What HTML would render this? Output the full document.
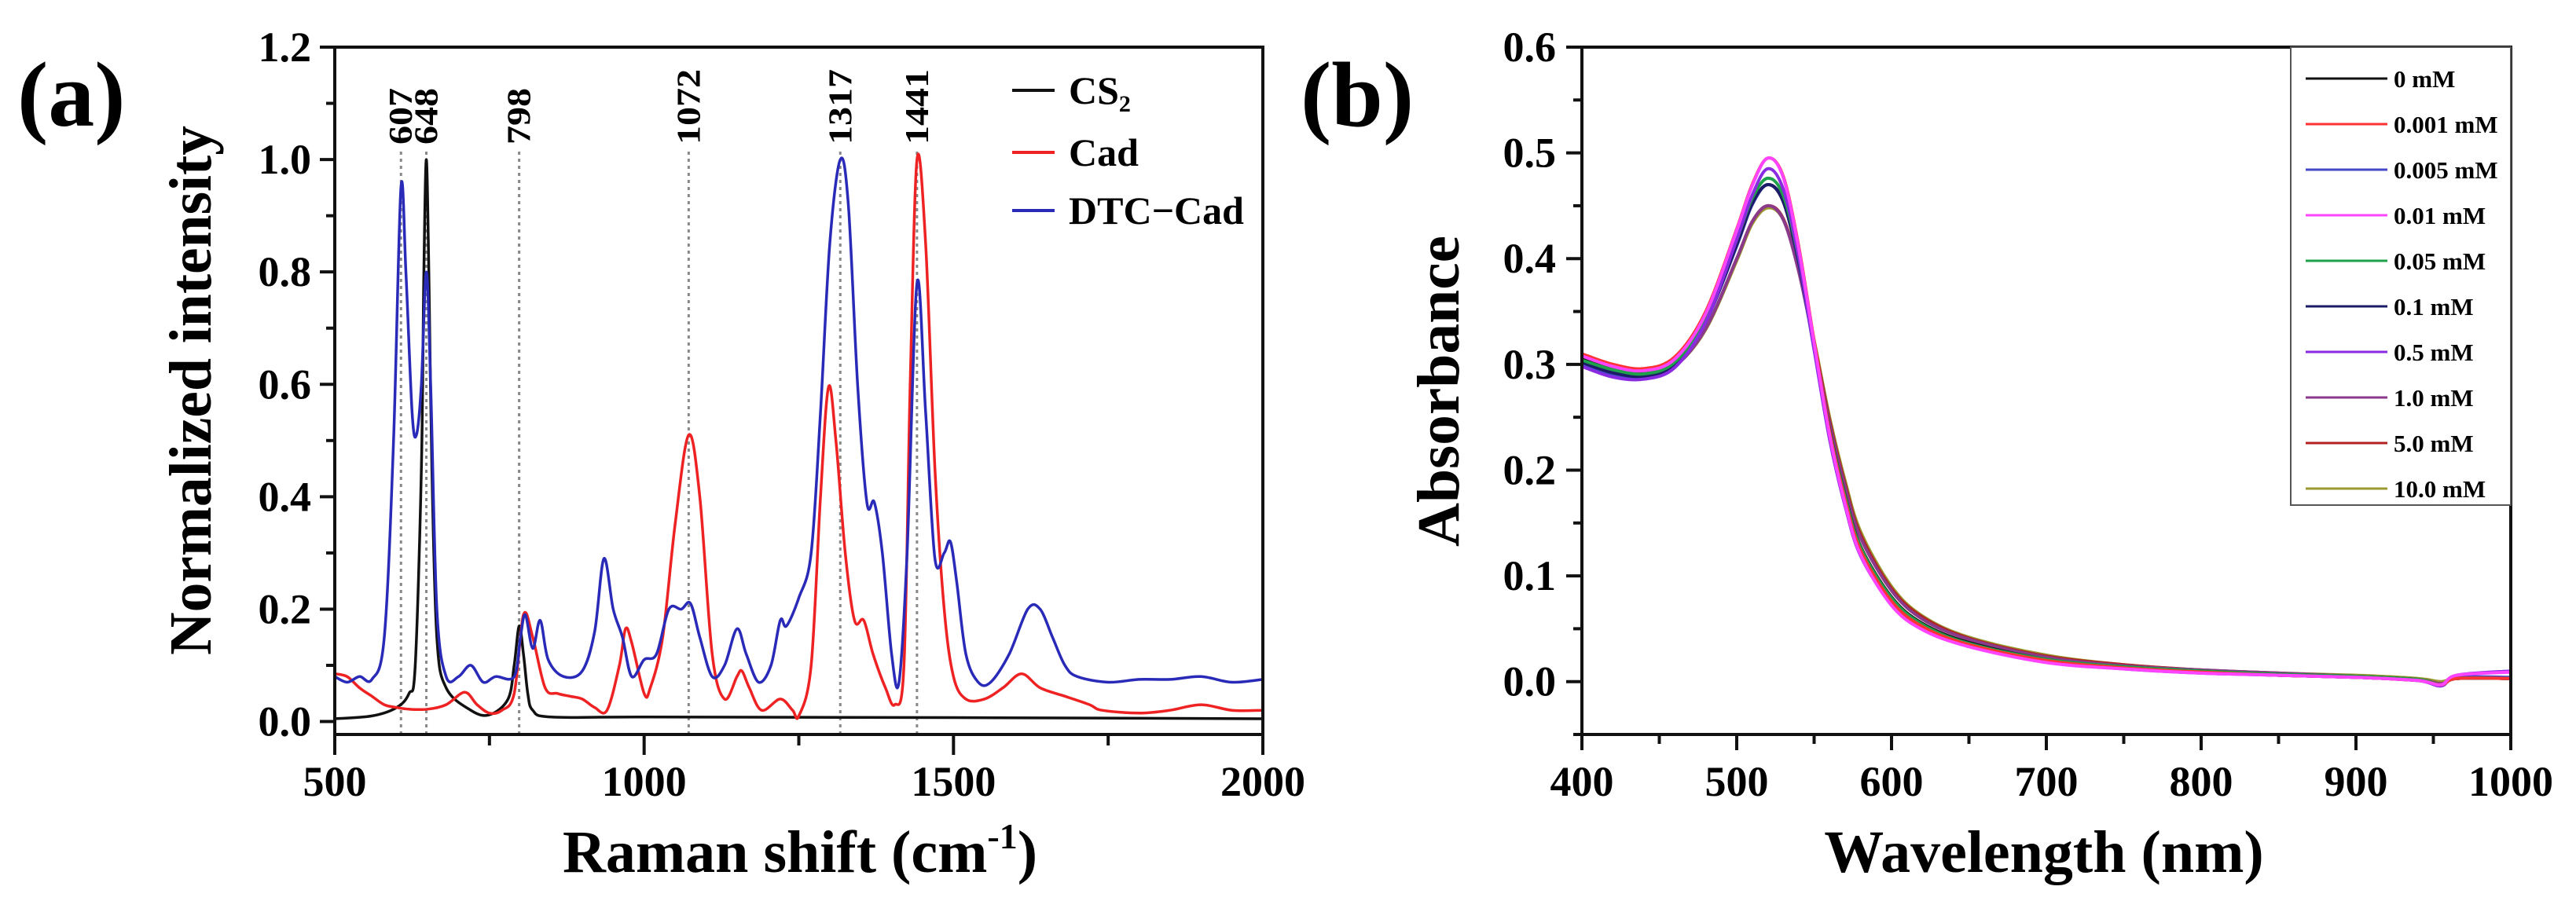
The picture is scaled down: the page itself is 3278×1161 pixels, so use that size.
<!DOCTYPE html>
<html><head><meta charset="utf-8"><style>
html,body{margin:0;padding:0;background:#fff;}
svg{display:block;font-family:"Liberation Serif",serif;font-weight:bold;}
</style></head><body>
<svg id="fig" width="3278" height="1161" viewBox="0 0 3278 1161" xmlns="http://www.w3.org/2000/svg">
<text x="22" y="160" font-size="118">(a)</text>
<text x="1655" y="160" font-size="118">(b)</text>
<text transform="translate(268,497) rotate(-90)" text-anchor="middle" font-size="76" textLength="674" lengthAdjust="spacingAndGlyphs">Normalized intensity</text>
<text x="1018" y="1110" text-anchor="middle" font-size="76">Raman shift (cm<tspan font-size="46" dy="-30">-1</tspan><tspan dy="30">)</tspan></text>
<text transform="translate(1856,498) rotate(-90)" text-anchor="middle" font-size="76" textLength="396" lengthAdjust="spacingAndGlyphs">Absorbance</text>
<text x="2601" y="1110" text-anchor="middle" font-size="76">Wavelength (nm)</text>
<g id="ga"></g><g id="gb"></g>
</svg>
<script>
// ---------- Panel (a) data ----------
const ramanTicks=[500,1000,1500,2000];
const intensityTicks=[0.0,0.2,0.4,0.6,0.8,1.0,1.2];
const peakPositions=[607,648,798,1072,1317,1441];
const cs2X=[500,560,600,620,630,640,644,648,652,657,665,680,720,750,780,790,798,805,812,820,850,1000,1500,2000];
const cs2Y=[0.005,0.01,0.025,0.05,0.1,0.45,0.8,1.0,0.8,0.45,0.15,0.06,0.02,0.012,0.04,0.1,0.17,0.12,0.05,0.02,0.008,0.008,0.007,0.005];
const cadX=[500,520,540,560,580,600,620,650,680,710,730,750,770,790,805,820,840,860,880,900,920,940,960,970,980,1000,1010,1030,1050,1072,1090,1110,1130,1150,1158,1170,1190,1220,1240,1250,1270,1285,1298,1310,1325,1340,1355,1370,1390,1405,1420,1430,1441,1455,1470,1485,1500,1520,1550,1580,1610,1640,1680,1720,1740,1800,1850,1900,1950,2000];
const cadY=[0.085,0.08,0.06,0.045,0.03,0.025,0.022,0.022,0.03,0.052,0.03,0.015,0.02,0.05,0.19,0.15,0.06,0.05,0.045,0.04,0.025,0.02,0.1,0.165,0.14,0.05,0.06,0.15,0.35,0.51,0.4,0.12,0.04,0.08,0.09,0.06,0.02,0.04,0.02,0.01,0.1,0.4,0.595,0.5,0.3,0.18,0.18,0.12,0.06,0.03,0.1,0.6,1.0,0.85,0.45,0.2,0.08,0.04,0.04,0.06,0.085,0.06,0.045,0.03,0.02,0.015,0.02,0.03,0.02,0.02];
const dtcX=[500,520,540,560,580,595,607,615,625,632,640,648,655,665,680,700,720,740,760,790,800,808,820,832,845,870,900,920,935,950,965,980,1000,1020,1040,1060,1075,1090,1110,1130,1150,1165,1185,1205,1220,1230,1250,1270,1285,1300,1317,1330,1345,1360,1372,1385,1400,1412,1425,1441,1455,1470,1485,1495,1505,1520,1540,1560,1590,1620,1640,1660,1680,1700,1750,1800,1850,1900,1950,2000];
const dtcY=[0.08,0.07,0.08,0.075,0.15,0.5,0.95,0.8,0.55,0.51,0.6,0.8,0.6,0.2,0.08,0.08,0.1,0.07,0.08,0.08,0.15,0.19,0.13,0.18,0.11,0.08,0.09,0.16,0.29,0.2,0.15,0.08,0.11,0.12,0.2,0.2,0.21,0.15,0.08,0.1,0.165,0.12,0.07,0.1,0.18,0.17,0.22,0.3,0.55,0.85,1.0,0.92,0.6,0.39,0.39,0.3,0.12,0.07,0.3,0.78,0.55,0.29,0.3,0.32,0.25,0.12,0.07,0.07,0.12,0.2,0.2,0.15,0.1,0.08,0.07,0.075,0.075,0.08,0.07,0.075];
// ---------- Panel (b) data ----------
const waveTicks=[400,500,600,700,800,900,1000];
const absTicks=[0.0,0.1,0.2,0.3,0.4,0.5,0.6];
const concLabels=["0 mM","0.001 mM","0.005 mM","0.01 mM","0.05 mM","0.1 mM","0.5 mM","1.0 mM","5.0 mM","10.0 mM"];
const wlX=[400,420,440,460,480,500,510,520,530,540,550,560,570,580,600,620,650,700,750,800,850,900,940,955,965,1000];
const abs0=[0.305,0.296,0.292,0.302,0.342,0.413,0.452,0.470,0.455,0.398,0.318,0.238,0.176,0.128,0.080,0.055,0.037,0.021,0.014,0.010,0.007,0.005,0.002,-0.003,0.003,0.003];
const abs1=[0.310,0.300,0.296,0.307,0.350,0.428,0.470,0.495,0.478,0.412,0.322,0.236,0.172,0.124,0.076,0.052,0.035,0.020,0.013,0.009,0.006,0.004,0.001,-0.003,0.003,0.003];
const abs2=[0.300,0.290,0.287,0.298,0.340,0.412,0.451,0.470,0.454,0.396,0.314,0.232,0.170,0.123,0.076,0.052,0.035,0.020,0.013,0.009,0.006,0.004,0.001,-0.004,0.004,0.004];
const abs3=[0.308,0.298,0.294,0.305,0.348,0.427,0.469,0.495,0.477,0.410,0.320,0.233,0.168,0.120,0.072,0.049,0.033,0.018,0.012,0.008,0.006,0.004,0.001,-0.003,0.006,0.009];
const abs4=[0.304,0.295,0.291,0.302,0.344,0.418,0.457,0.476,0.460,0.401,0.319,0.237,0.175,0.127,0.079,0.054,0.036,0.021,0.014,0.010,0.007,0.005,0.002,-0.003,0.003,0.003];
const abs5=[0.302,0.292,0.289,0.300,0.341,0.413,0.452,0.470,0.454,0.397,0.316,0.235,0.173,0.125,0.077,0.053,0.036,0.020,0.013,0.009,0.006,0.004,0.001,-0.003,0.003,0.003];
const abs6=[0.298,0.288,0.286,0.297,0.340,0.418,0.460,0.485,0.466,0.402,0.314,0.229,0.166,0.119,0.073,0.050,0.034,0.019,0.012,0.008,0.006,0.004,0.001,-0.004,0.006,0.010];
const abs7=[0.300,0.290,0.288,0.298,0.334,0.400,0.435,0.450,0.437,0.388,0.318,0.244,0.184,0.136,0.086,0.059,0.040,0.023,0.015,0.011,0.008,0.005,0.002,-0.002,0.003,0.003];
const abs8=[0.301,0.291,0.289,0.299,0.334,0.400,0.435,0.450,0.438,0.390,0.321,0.247,0.187,0.139,0.088,0.061,0.041,0.024,0.016,0.011,0.008,0.005,0.002,-0.002,0.003,0.003];
const abs9=[0.299,0.290,0.288,0.298,0.333,0.398,0.433,0.448,0.437,0.391,0.323,0.250,0.190,0.142,0.090,0.062,0.042,0.025,0.016,0.011,0.008,0.006,0.003,0.000,0.003,0.003];

const NS="http://www.w3.org/2000/svg";
function mk(tag,attrs,parent){const e=document.createElementNS(NS,tag);for(const k in attrs)e.setAttribute(k,attrs[k]);parent.appendChild(e);return e;}
function smooth(pts){let d="M"+pts[0][0].toFixed(1)+","+pts[0][1].toFixed(1);
 for(let i=0;i<pts.length-1;i++){const p0=pts[Math.max(0,i-1)],p1=pts[i],p2=pts[i+1],p3=pts[Math.min(pts.length-1,i+2)];
  const t=6;d+=" C"+(p1[0]+(p2[0]-p0[0])/t).toFixed(1)+","+(p1[1]+(p2[1]-p0[1])/t).toFixed(1)+" "+(p2[0]-(p3[0]-p1[0])/t).toFixed(1)+","+(p2[1]-(p3[1]-p1[1])/t).toFixed(1)+" "+p2[0].toFixed(1)+","+p2[1].toFixed(1);}
 return d;}

// ---- Panel a axes ----
const A={l:426,r:1607,t:60,b:935,x0:500,x1:2000,y0:-0.023,y1:1.2};
const ax=v=>A.l+(v-A.x0)/(A.x1-A.x0)*(A.r-A.l);
const ay=v=>A.b-(v-A.y0)/(A.y1-A.y0)*(A.b-A.t);
const ga=document.getElementById('ga');
peakPositions.forEach(p=>{
 const l=mk('line',{x1:ax(p),x2:ax(p),y1:193,y2:A.b,stroke:'#888','stroke-width':3,'stroke-dasharray':'4,5'},ga);
 
 
 const s=String(p);
 const t=mk('text',{transform:`translate(${ax(p)+14},184) rotate(-90)`,'font-size':42,textLength:s.length*24,lengthAdjust:'spacingAndGlyphs'},ga);t.textContent=s;
 
 
});
[[cs2X,cs2Y,'#111','cs2-line'],[cadX,cadY,'#ee2222','cad-line'],[dtcX,dtcY,'#2a2ab8','dtc-cad-line']].forEach(s=>{
 const pts=s[0].map((x,i)=>[ax(x),ay(s[1][i])]);
 const p=mk('path',{d:smooth(pts),fill:'none',stroke:s[2],'stroke-width':3.5},ga);
 
 
});
const fa=mk('rect',{x:A.l,y:A.t,width:A.r-A.l,height:A.b-A.t,fill:'none',stroke:'#111','stroke-width':4},ga);


for(let v=0;v<=1.2001;v+=0.1){const maj=Math.abs(v*10%2)<0.01||Math.abs(v*10%2-2)<0.01;mk('line',{x1:A.l,x2:A.l-(maj?19:11),y1:ay(v),y2:ay(v),stroke:'#111','stroke-width':4},ga);}
intensityTicks.forEach(v=>{const t=mk('text',{x:A.l-30,y:ay(v)+18,'text-anchor':'end','font-size':54},ga);t.textContent=v.toFixed(1);
 
 });
for(let v=500;v<=2000;v+=250){const maj=v%500===0;mk('line',{x1:ax(v),x2:ax(v),y1:A.b,y2:A.b+(maj?26:14),stroke:'#111','stroke-width':4},ga);}
ramanTicks.forEach(v=>{const t=mk('text',{x:ax(v),y:1013,'text-anchor':'middle','font-size':54},ga);t.textContent=v;
 
 });
const legA=[['CS','#111'],['Cad','#ee2222'],['DTC\u2212Cad','#2a2ab8']];
legA.forEach((e,i)=>{const y=[115,194,268][i];
 mk('line',{x1:1288,x2:1342,y1:y,y2:y,stroke:e[1],'stroke-width':4},ga);
 const t=mk('text',{x:1360,y:y+17,'font-size':50},ga);t.textContent=e[0];
 if(i===0){const s=mk('tspan',{'font-size':30,dy:10},t);s.textContent='2';}
 
 });

// ---- Panel b ----
const B={l:2013,r:3195,t:60,b:935,x0:400,x1:1000,y0:-0.05,y1:0.6};
const bx=v=>B.l+(v-B.x0)/(B.x1-B.x0)*(B.r-B.l);
const by=v=>B.b-(v-B.y0)/(B.y1-B.y0)*(B.b-B.t);
const gb=document.getElementById('gb');
const series=[abs0,abs1,abs2,abs3,abs4,abs5,abs6,abs7,abs8,abs9];
const colors=['#111','#ff3333','#4646c8','#ff44ff','#1fa04a','#1c1c66','#8a2be2','#8b3a8b','#b22222','#9a9a30'];
const order=[9,8,7,0,2,5,4,6,1,3];
order.forEach(k=>{const pts=wlX.map((x,i)=>[bx(x),by(series[k][i])]);
 const p=mk('path',{d:smooth(pts),fill:'none',stroke:colors[k],'stroke-width':4},gb);
 
 });
const fb=mk('rect',{x:B.l,y:B.t,width:B.r-B.l,height:B.b-B.t,fill:'none',stroke:'#111','stroke-width':4},gb);


for(let i=-1;i<=12;i++){const v=i*0.05;const maj=i%2===0;mk('line',{x1:B.l,x2:B.l-(maj?20:11),y1:by(v),y2:by(v),stroke:'#111','stroke-width':4},gb);}
absTicks.forEach(v=>{const t=mk('text',{x:B.l-33,y:by(v)+18,'text-anchor':'end','font-size':54},gb);t.textContent=v.toFixed(1);
 
 });
for(let v=400;v<=1000;v+=50){const maj=v%100===0;mk('line',{x1:bx(v),x2:bx(v),y1:B.b,y2:B.b+(maj?20:12),stroke:'#111','stroke-width':4},gb);}
waveTicks.forEach(v=>{const t=mk('text',{x:bx(v),y:1013,'text-anchor':'middle','font-size':54},gb);t.textContent=v;
 
 });
const lb=mk('rect',{x:2915,y:60,width:280,height:583,fill:'#fff',stroke:'#555','stroke-width':2},gb);


concLabels.forEach((c,i)=>{const y=100+i*58;
 mk('line',{x1:2934,x2:3038,y1:y,y2:y,stroke:colors[i],'stroke-width':3},gb);
 const t=mk('text',{x:3046,y:y+11,'font-size':31},gb);t.textContent=c;
 
 });
</script>
</body></html>
